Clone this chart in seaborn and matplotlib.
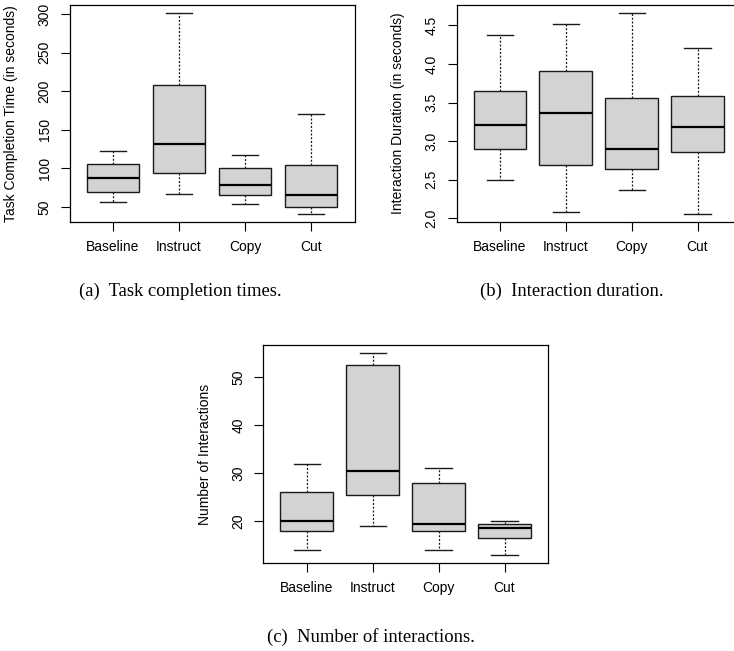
import numpy as np
import pandas as pd
import matplotlib
matplotlib.use("Agg")
import matplotlib.pyplot as plt
import seaborn as sns

# Conditions shown on every x axis
conditions = ["Baseline", "Instruct", "Copy", "Cut"]

# Five-number summaries per condition: min, Q1, median, Q3, max
completion_time = {
    "Baseline": [56, 69, 87.5, 105.5, 122],
    "Instruct": [67.5, 94.5, 131.5, 208.5, 301.5],
    "Copy":     [53.5, 65, 78, 100, 117],
    "Cut":      [41, 50, 66, 105, 170],
}
interaction_duration = {
    "Baseline": [2.495, 2.904, 3.209, 3.644, 4.38],
    "Instruct": [2.077, 2.684, 3.368, 3.911, 4.517],
    "Copy":     [2.366, 2.641, 2.904, 3.558, 4.659],
    "Cut":      [2.056, 2.856, 3.179, 3.579, 4.207],
}
num_interactions = {
    "Baseline": [14, 18, 20, 26, 32],
    "Instruct": [19, 25.5, 30.5, 52.5, 55],
    "Copy":     [14, 18, 19.5, 28, 31],
    "Cut":      [13, 16.5, 18.5, 19.5, 20],
}

ticks_a = [50, 100, 150, 200, 250, 300]
ticks_b = [2.0, 2.5, 3.0, 3.5, 4.0, 4.5]
ticks_c = [20, 30, 40, 50]

ylabel_a = "Task Completion Time (in seconds)"
ylabel_b = "Interaction Duration (in seconds)"
ylabel_c = "Number of Interactions"

caption_a = "(a)  Task completion times."
caption_b = "(b)  Interaction duration."
caption_c = "(c)  Number of interactions."

plt.rcParams["font.family"] = ["Liberation Sans", "DejaVu Sans"]

W, H = 734, 651
fig = plt.figure(figsize=(W / 100, H / 100), dpi=100)


def px_axes(left, right, top, bottom):
    return fig.add_axes([left / W, 1 - bottom / H, (right - left) / W, (bottom - top) / H])


def long_form(summary):
    rows = []
    for c in conditions:
        for v in summary[c]:
            rows.append((c, v))
    return pd.DataFrame(rows, columns=["condition", "value"])


def draw_panel(ax, summary, yticks, ylabel, fmt):
    df = long_form(summary)
    sns.boxplot(
        data=df, x="condition", y="value", order=conditions, ax=ax,
        color="#d3d3d3", saturation=1, linecolor="#1a1a1a", linewidth=1.0,
        width=0.8, whis=(0, 100), showfliers=False,
        medianprops=dict(linewidth=1.6, color="black"),
        whiskerprops=dict(linestyle=(0, (1.6, 1.4)), linewidth=0.9),
        capprops=dict(linestyle="-", linewidth=1.0),
    )
    vals = np.concatenate([summary[c] for c in conditions])
    lo, hi = vals.min(), vals.max()
    pad = 0.04 * (hi - lo)
    ax.set_ylim(lo - pad, hi + pad)
    ax.set_xlim(-0.66, 3.66)
    ax.set_yticks(yticks)
    ax.set_yticklabels([fmt.format(t) for t in yticks])
    ax.set_xlabel("")
    ax.set_ylabel(ylabel, fontsize=10)
    ax.yaxis.label.set_va("center")
    ax.yaxis.set_label_coords(-58.5 / 285, 0.5)
    for s in ax.spines.values():
        s.set_linewidth(0.9)
        s.set_color("black")
    ax.tick_params(axis="both", length=6.5, width=0.8, color="black", labelsize=10)
    ax.tick_params(axis="y", pad=11.5)
    ax.tick_params(axis="x", pad=6.5)
    for lab in ax.get_yticklabels():
        lab.set_rotation(90)
        lab.set_va("center")
        lab.set_ha("center")


ax_a = px_axes(69.5, 354.5, 5, 222)
draw_panel(ax_a, completion_time, ticks_a, ylabel_a, "{:g}")

ax_b = px_axes(456.5, 741, 5, 222)
draw_panel(ax_b, interaction_duration, ticks_b, ylabel_b, "{:.1f}")

ax_c = px_axes(263.3, 548, 345, 563)
draw_panel(ax_c, num_interactions, ticks_c, ylabel_c, "{:g}")

cap_kw = dict(family=["Liberation Serif", "DejaVu Serif"], fontsize=13.4,
              ha="center", va="center")
fig.text(180 / W, 1 - 291 / H, caption_a, **cap_kw)
fig.text(572 / W, 1 - 291 / H, caption_b, **cap_kw)
fig.text(371 / W, 1 - 637.5 / H, caption_c, **cap_kw)

fig.savefig("out.png", dpi=100, facecolor="white")
